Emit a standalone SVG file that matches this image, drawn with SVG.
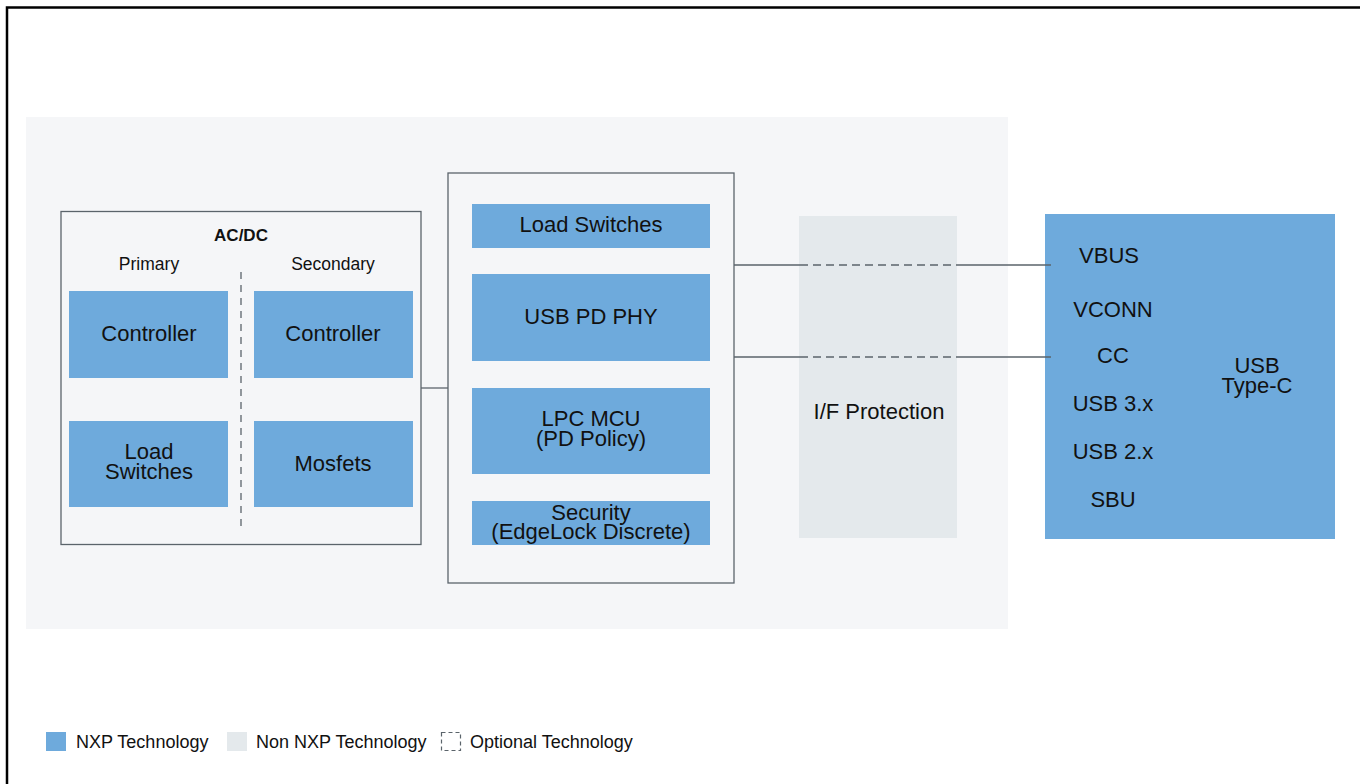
<svg xmlns="http://www.w3.org/2000/svg" width="1360" height="784" viewBox="0 0 1360 784">
<style>
text{font-family:"Liberation Sans",Arial,sans-serif;fill:#111;text-anchor:middle}
.b{fill:#6eaadc}
.lg{font-size:22px}
.sm{font-size:17.5px}
.leg{font-size:18px;text-anchor:start}
.box{fill:#f5f6f8;stroke:#5b646b;stroke-width:1.3}
.ln{stroke:#5b646b;stroke-width:1.3;fill:none}
</style>
<rect width="1360" height="784" fill="#fff"/>
<path d="M7,784 V7.5 H1360" fill="none" stroke="#000" stroke-width="2.5"/>
<rect x="26" y="117" width="982" height="512" fill="#f5f6f8"/>
<g id="acdc">
<rect class="box" x="61" y="211.5" width="360" height="333"/>
<text x="241" y="241" style="font-size:17px;font-weight:bold">AC/DC</text>
<text class="sm" x="149" y="270">Primary</text>
<text class="sm" x="333" y="270">Secondary</text>
<line x1="241" y1="272" x2="241" y2="530" stroke="#5b646b" stroke-width="1.3" stroke-dasharray="7,6"/>
</g>
<g id="pri-controller"><rect class="b" x="69" y="291" width="159" height="87"/><text class="lg" x="149" y="341">Controller</text></g>
<g id="sec-controller"><rect class="b" x="254" y="291" width="159" height="87"/><text class="lg" x="333" y="341">Controller</text></g>
<g id="pri-load"><rect class="b" x="69" y="421" width="159" height="86"/><text class="lg" x="149" y="459">Load</text><text class="lg" x="149" y="479">Switches</text></g>
<g id="mosfets"><rect class="b" x="254" y="421" width="159" height="86"/><text class="lg" x="333" y="471">Mosfets</text></g>
<g id="pd-controller">
<rect class="box" x="448" y="173" width="286" height="410"/>
</g>
<g id="load-switches"><rect class="b" x="472" y="204" width="238" height="44"/><text class="lg" x="591" y="232">Load Switches</text></g>
<g id="usb-pd-phy"><rect class="b" x="472" y="274" width="238" height="87"/><text class="lg" x="591" y="324">USB PD PHY</text></g>
<g id="lpc-mcu"><rect class="b" x="472" y="388" width="238" height="86"/><text class="lg" x="591" y="426">LPC MCU</text><text class="lg" x="591" y="446">(PD Policy)</text></g>
<g id="security"><rect class="b" x="472" y="501" width="238" height="44"/><text class="lg" x="591" y="520">Security</text><text class="lg" x="591" y="539">(EdgeLock Discrete)</text></g>
<g id="if-protection"><rect x="799" y="216" width="158" height="322" fill="#e4e9ec"/><text class="lg" x="879" y="419">I/F Protection</text></g>
<g id="usb-type-c">
<rect class="b" x="1045" y="214" width="290" height="325"/>
<text class="lg" x="1109" y="263">VBUS</text>
<text class="lg" x="1113" y="317">VCONN</text>
<text class="lg" x="1113" y="363">CC</text>
<text class="lg" x="1113" y="411">USB 3.x</text>
<text class="lg" x="1113" y="459">USB 2.x</text>
<text class="lg" x="1113" y="507">SBU</text>
<text class="lg" x="1257" y="373">USB</text>
<text class="lg" x="1257" y="393">Type-C</text>
</g>
<g id="connectors">
<line class="ln" x1="421" y1="388" x2="448" y2="388"/>
<path class="ln" d="M734,265 H800 M956,265 H1051 M734,357 H800 M956,357 H1051"/>
<path class="ln" d="M800,265 H956 M800,357 H956" stroke-dasharray="8,5"/>
</g>
<g id="legend">
<rect class="b" x="46" y="732" width="20" height="19"/>
<text class="leg" x="76" y="748">NXP Technology</text>
<rect x="227" y="732" width="20" height="19" fill="#e4e9ec"/>
<text class="leg" x="256" y="748">Non NXP Technology</text>
<rect x="441.5" y="732.5" width="19" height="18" fill="none" stroke="#5b646b" stroke-width="1.2" stroke-dasharray="4,3"/>
<text class="leg" x="470" y="748">Optional Technology</text>
</g>
</svg>
